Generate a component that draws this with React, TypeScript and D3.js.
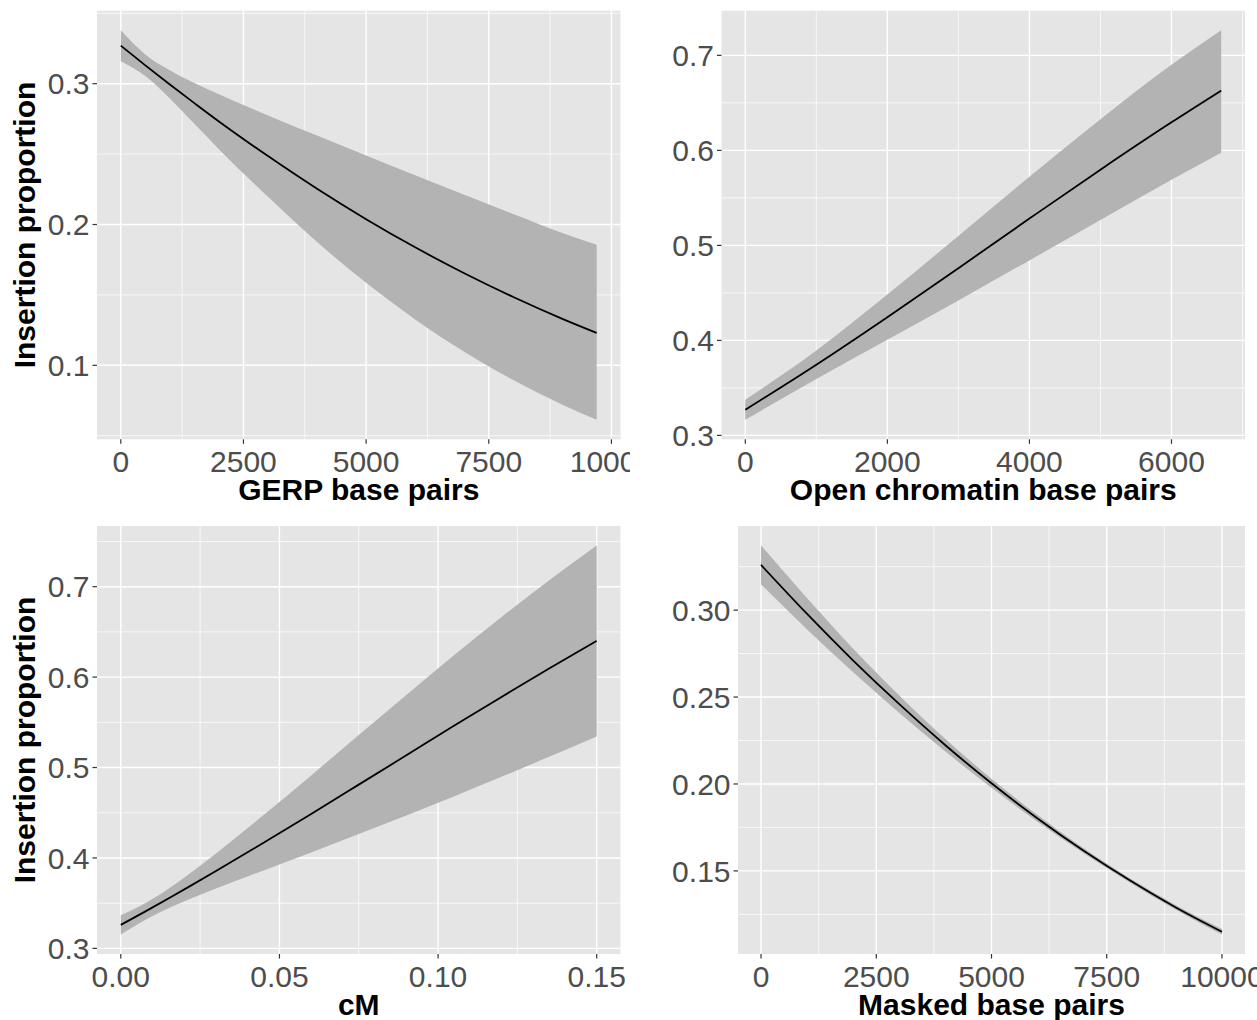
import React from "react";
import * as d3 from "d3";

// ---------- data ----------
const gerpX = [0, 500, 1000, 1500, 2000, 3000, 4000, 5000, 6000, 7000, 8000, 9000, 9700];
const gerpFit = [0.327, 0.313, 0.2994, 0.2862, 0.2732, 0.2486, 0.2254, 0.2038, 0.1838, 0.1654, 0.1485, 0.133, 0.123];
const gerpLower = [0.316, 0.3055, 0.2895, 0.2715, 0.2535, 0.2197, 0.1876, 0.1586, 0.1326, 0.1097, 0.0895, 0.072, 0.0613];
const gerpUpper = [0.338, 0.3208, 0.3095, 0.3005, 0.2925, 0.2775, 0.2632, 0.249, 0.235, 0.2211, 0.2075, 0.194, 0.1857];

const openX = [0, 1000, 2000, 3000, 4000, 5000, 6000, 6700];
const openFit = [0.327, 0.3744, 0.4244, 0.476, 0.5282, 0.5797, 0.6295, 0.6629];
const openLower = [0.3164, 0.3594, 0.4006, 0.442, 0.4842, 0.5267, 0.569, 0.5975];
const openUpper = [0.3376, 0.3894, 0.4483, 0.51, 0.5722, 0.6328, 0.69, 0.7265];

const cmX = [0, 0.0075, 0.015, 0.0225, 0.03, 0.045, 0.06, 0.075, 0.09, 0.105, 0.12, 0.135, 0.15];
const cmFit = [0.326, 0.3404, 0.3552, 0.3702, 0.3855, 0.4168, 0.4487, 0.4811, 0.5136, 0.5461, 0.5781, 0.6095, 0.64];
const cmLower = [0.3153, 0.3311, 0.3444, 0.3557, 0.3661, 0.3862, 0.4061, 0.4264, 0.447, 0.4681, 0.4897, 0.5118, 0.5344];
const cmUpper = [0.3367, 0.3497, 0.366, 0.3848, 0.4049, 0.4474, 0.4913, 0.5359, 0.5802, 0.6241, 0.6665, 0.7072, 0.7456];

const maskedX = [0, 1000, 2000, 3000, 4000, 5000, 6000, 7000, 8000, 9000, 10000];
const maskedFit = [0.326, 0.2978, 0.271, 0.2459, 0.2223, 0.2004, 0.1802, 0.1616, 0.1446, 0.129, 0.115];
const maskedLower = [0.3148, 0.2888, 0.2642, 0.2409, 0.2187, 0.1978, 0.1783, 0.1602, 0.1434, 0.1277, 0.1134];
const maskedUpper = [0.3372, 0.3068, 0.2778, 0.2509, 0.2259, 0.203, 0.1821, 0.163, 0.1458, 0.1303, 0.1166];

const gerpXTicks = [0, 2500, 5000, 7500, 10000];
const gerpYTicks = [0.1, 0.2, 0.3];
const openXTicks = [0, 2000, 4000, 6000];
const openYTicks = [0.3, 0.4, 0.5, 0.6, 0.7];
const cmXTicks = [0, 0.05, 0.1, 0.15];
const cmYTicks = [0.3, 0.4, 0.5, 0.6, 0.7];
const maskedXTicks = [0, 2500, 5000, 7500, 10000];
const maskedYTicks = [0.15, 0.2, 0.25, 0.3];

const yTitleText = "Insertion proportion";

// ---------- helpers ----------
function expand(vals: number[]): [number, number] {
  const lo = d3.min(vals) as number;
  const hi = d3.max(vals) as number;
  const r = hi - lo;
  return [lo - 0.05 * r, hi + 0.05 * r];
}

function minorBreaks(majors: number[], dom: [number, number]) {
  const b = majors.slice();
  const bd = b[1] - b[0];
  if (dom[0] < b[0]) b.unshift(b[0] - bd);
  if (dom[1] > b[b.length - 1]) b.push(b[b.length - 1] + bd);
  const out: number[] = [];
  for (let i = 0; i < b.length - 1; i++) out.push((b[i] + b[i + 1]) / 2);
  return out.filter((v) => v >= dom[0] && v <= dom[1]);
}

const FONT = "'Liberation Sans', Arial, Helvetica, sans-serif";
const TICK_COLOR = "#4D4D4D";
const BG = "#E5E5E5";
const RIBBON = "#B3B3B3";
const TICK_SIZE = 30;

type PanelProps = {
  id: string;
  clip: { x: number; y: number; w: number; h: number };
  rect: { l: number; r: number; t: number; b: number };
  xs: number[];
  fit: number[];
  lower: number[];
  upper: number[];
  xTicks: number[];
  yTicks: number[];
  xFmt: (v: number) => string;
  yFmt: (v: number) => string;
  xTitle: string;
  yTitle?: string;
};

function Panel(p: PanelProps) {
  const xDom = expand(p.xs);
  const yDom = expand([...p.lower, ...p.upper]);
  const x = d3.scaleLinear().domain(xDom).range([p.rect.l, p.rect.r]);
  const y = d3.scaleLinear().domain(yDom).range([p.rect.b, p.rect.t]);
  const xMaj = p.xTicks.filter((v) => v >= xDom[0] && v <= xDom[1]);
  const yMaj = p.yTicks.filter((v) => v >= yDom[0] && v <= yDom[1]);
  const xMin = minorBreaks(p.xTicks, xDom);
  const yMin = minorBreaks(p.yTicks, yDom);
  const rows = p.xs.map((xv, i) => ({ x: xv, f: p.fit[i], lo: p.lower[i], hi: p.upper[i] }));
  const area = d3
    .area<any>()
    .x((d) => x(d.x))
    .y0((d) => y(d.lo))
    .y1((d) => y(d.hi))
    .curve(d3.curveMonotoneX);
  const line = d3
    .line<any>()
    .x((d) => x(d.x))
    .y((d) => y(d.f))
    .curve(d3.curveMonotoneX);
  const { l, r, t, b } = p.rect;
  const cx = (l + r) / 2;
  const cy = (t + b) / 2;
  return (
    <g clipPath={`url(#${p.id})`}>
      <defs>
        <clipPath id={p.id}>
          <rect x={p.clip.x} y={p.clip.y} width={p.clip.w} height={p.clip.h} />
        </clipPath>
      </defs>
      <rect x={l} y={t} width={r - l} height={b - t} fill={BG} />
      {xMin.map((v) => (
        <line key={"xm" + v} x1={x(v)} x2={x(v)} y1={t} y2={b} stroke="#fff" strokeWidth={0.7} />
      ))}
      {yMin.map((v) => (
        <line key={"ym" + v} x1={l} x2={r} y1={y(v)} y2={y(v)} stroke="#fff" strokeWidth={0.7} />
      ))}
      {xMaj.map((v) => (
        <line key={"xM" + v} x1={x(v)} x2={x(v)} y1={t} y2={b} stroke="#fff" strokeWidth={1.4} />
      ))}
      {yMaj.map((v) => (
        <line key={"yM" + v} x1={l} x2={r} y1={y(v)} y2={y(v)} stroke="#fff" strokeWidth={1.4} />
      ))}
      <path d={area(rows) || ""} fill={RIBBON} />
      <path d={line(rows) || ""} fill="none" stroke="#000" strokeWidth={1.8} />
      {xMaj.map((v) => (
        <g key={"xt" + v}>
          <line x1={x(v)} x2={x(v)} y1={b} y2={b + 4.5} stroke="#333" strokeWidth={1.2} />
          <text
            x={x(v)}
            y={b + 33}
            textAnchor="middle"
            fontFamily={FONT}
            fontSize={TICK_SIZE}
            fill={TICK_COLOR}
          >
            {p.xFmt(v)}
          </text>
        </g>
      ))}
      {yMaj.map((v) => (
        <g key={"yt" + v}>
          <line x1={l - 4.5} x2={l} y1={y(v)} y2={y(v)} stroke="#333" strokeWidth={1.2} />
          <text
            x={l - 7.5}
            y={y(v) + 10.7}
            textAnchor="end"
            fontFamily={FONT}
            fontSize={TICK_SIZE}
            fill={TICK_COLOR}
          >
            {p.yFmt(v)}
          </text>
        </g>
      ))}
      <text
        x={cx}
        y={b + 61}
        textAnchor="middle"
        fontFamily={FONT}
        fontWeight="bold"
        fontSize={30}
        fill="#000"
      >
        {p.xTitle}
      </text>
      {p.yTitle ? (
        <text
          transform={`translate(${35},${cy}) rotate(-90)`}
          textAnchor="middle"
          fontFamily={FONT}
          fontWeight="bold"
          fontSize={30}
          fill="#000"
        >
          {p.yTitle}
        </text>
      ) : null}
    </g>
  );
}

const fmtInt = (v: number) => d3.format("d")(v);
const fmt1 = (v: number) => d3.format(".1f")(v);
const fmt2 = (v: number) => d3.format(".2f")(v);

export default function App() {
  return (
    <svg
      width={1257}
      height={1020}
      style={{ position: "absolute", left: 0, top: 0, background: "#fff" }}
    >
      <rect x={0} y={0} width={1257} height={1020} fill="#fff" />
      <Panel
        id="q1"
        clip={{ x: 0, y: 0, w: 630, h: 515 }}
        rect={{ l: 97, r: 620.5, t: 10.7, b: 439.3 }}
        xs={gerpX}
        fit={gerpFit}
        lower={gerpLower}
        upper={gerpUpper}
        xTicks={gerpXTicks}
        yTicks={gerpYTicks}
        xFmt={fmtInt}
        yFmt={fmt1}
        xTitle="GERP base pairs"
        yTitle={yTitleText}
      />
      <Panel
        id="q2"
        clip={{ x: 630, y: 0, w: 627, h: 515 }}
        rect={{ l: 721.5, r: 1245, t: 10.7, b: 439.3 }}
        xs={openX}
        fit={openFit}
        lower={openLower}
        upper={openUpper}
        xTicks={openXTicks}
        yTicks={openYTicks}
        xFmt={fmtInt}
        yFmt={fmt1}
        xTitle="Open chromatin base pairs"
      />
      <Panel
        id="q3"
        clip={{ x: 0, y: 515, w: 630, h: 505 }}
        rect={{ l: 97, r: 620.5, t: 526, b: 954 }}
        xs={cmX}
        fit={cmFit}
        lower={cmLower}
        upper={cmUpper}
        xTicks={cmXTicks}
        yTicks={cmYTicks}
        xFmt={fmt2}
        yFmt={fmt1}
        xTitle="cM"
        yTitle={yTitleText}
      />
      <Panel
        id="q4"
        clip={{ x: 630, y: 515, w: 627, h: 505 }}
        rect={{ l: 738, r: 1245, t: 526, b: 954 }}
        xs={maskedX}
        fit={maskedFit}
        lower={maskedLower}
        upper={maskedUpper}
        xTicks={maskedXTicks}
        yTicks={maskedYTicks}
        xFmt={fmtInt}
        yFmt={fmt2}
        xTitle="Masked base pairs"
      />
    </svg>
  );
}
